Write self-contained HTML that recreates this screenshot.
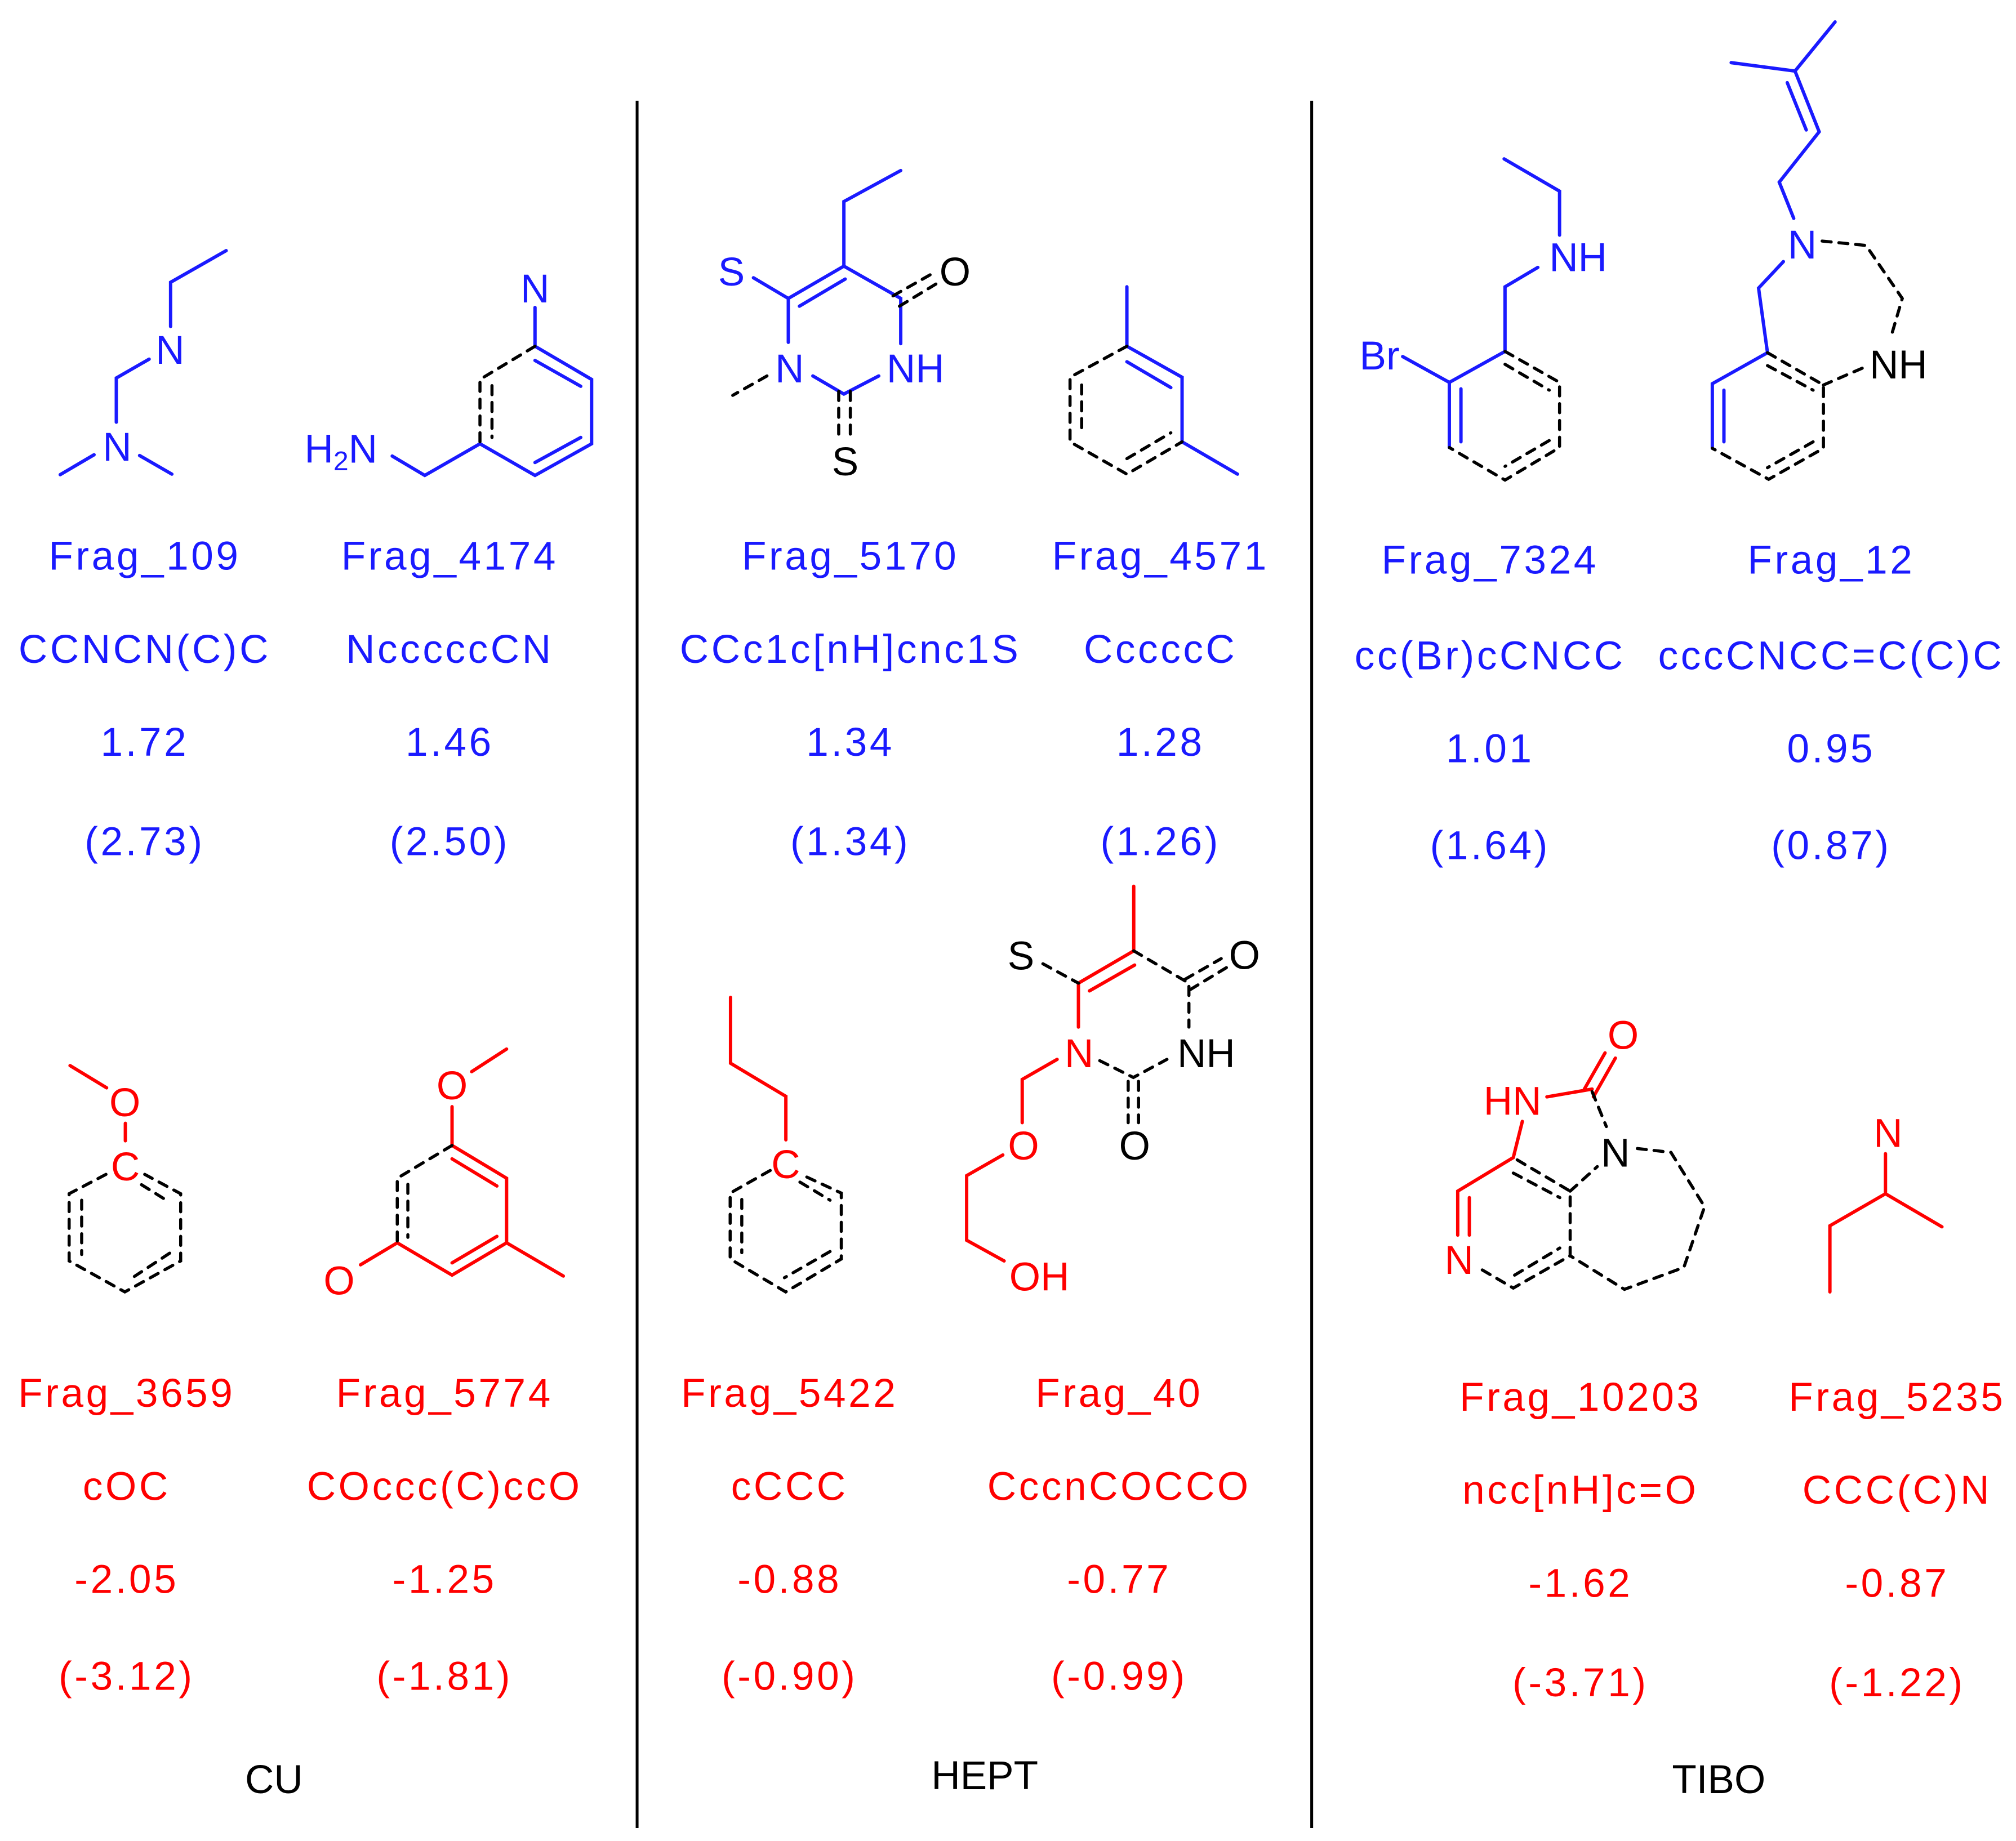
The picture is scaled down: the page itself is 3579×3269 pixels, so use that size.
<!DOCTYPE html>
<html><head><meta charset="utf-8"><style>
html,body{margin:0;padding:0;background:#fff}
svg{display:block}
text{font-family:"Liberation Sans",sans-serif;font-size:31px;text-anchor:middle}
.lab text{letter-spacing:2px}
.b{fill:#1a1aff}.r{fill:#ff0000}.k{fill:#000}
.lb{stroke:#1a1aff;stroke-width:2.6;fill:none;stroke-linecap:round}
.lr{stroke:#ff0000;stroke-width:2.6;fill:none;stroke-linecap:round}
.lk{stroke:#000;stroke-width:2.2;fill:none}
.ld{stroke:#000;stroke-width:2.4;fill:none;stroke-dasharray:7 6;stroke-linecap:round}
.at{font-size:31px}
.st{text-anchor:start}
</style></head><body>
<svg width="3579" height="3269" viewBox="0 0 1560 1425" preserveAspectRatio="none" xmlns="http://www.w3.org/2000/svg">
<rect width="1560" height="1425" fill="#fff"/>
<line x1="493" y1="78" x2="493" y2="1415" class="lk"/>
<line x1="1015" y1="78" x2="1015" y2="1415" class="lk"/>

<!-- Frag_109 -->
<path class="lb" d="M175,194 L132,218.5 L132,252.7 M115.4,278 L90,292.6 L90,326.8 M72.8,352 L46.6,367.4 M108,352.6 L133,367"/>
<text x="131.6" y="281.7" class="b at">N</text>
<text x="90.7" y="356.5" class="b at">N</text>

<!-- Frag_4174 -->
<text x="414" y="234" class="b at">N</text>
<path class="lb" d="M414,238 L414,268 L457.8,293.7 L457.8,343.5 L414,368 L371.4,343.5 L328.7,368 L303.5,353 M414,279 L449.4,299 M449.4,338.6 L414,358"/>
<path class="ld" d="M414,268 L371.4,293.7 L371.4,343.5 M380.7,298.5 L380.7,338.6"/>
<text x="235.6" y="358" class="b at st">H<tspan font-size="21" dy="6">2</tspan><tspan dy="-6">N</tspan></text>

<!-- Frag_5170 -->
<text x="566" y="221" class="b at">S</text>
<path class="lb" d="M583,215 L610,231 L653,206 L697,231 L697,266 M618.6,237 L654,216 M653,206 L653,156 L697,132 M610,231 L610,265 M629,291 L653,305 L680,291"/>
<text x="611" y="296" class="b at">N</text>
<text x="686" y="296" class="b at st">NH</text>
<path class="ld" d="M649,303 L649,339 M658,303 L658,339 M593.5,291 L567,306 M691,229 L721,212 M696,237 L725.6,219"/>
<text x="654" y="368" class="k at">S</text>
<text x="739" y="221" class="k at">O</text>

<!-- Frag_4571 -->
<path class="lb" d="M872,222 L872,268 L914.7,292 L914.7,342 L957.6,367 M872,280 L906,300"/>
<path class="ld" d="M872,268 L828,292 L828,342 L872,367 L914.7,342 M837,298 L837,336 M872,355 L906,335"/>

<!-- Frag_7324 -->
<path class="lb" d="M1163.9,123 L1206.8,148 L1206.8,182 M1190,207 L1164.6,222 L1164.6,272 L1121.5,296 L1121.5,346.4 M1130.5,301 L1130.5,342 M1085.4,276 L1121.5,296"/>
<text x="1198.8" y="210" class="b at st">NH</text>
<text x="1052" y="286" class="b at st">Br</text>
<path class="ld" d="M1164.6,272 L1206.8,296 L1206.8,346.4 L1164.6,371.6 L1121.5,346.4 M1164.6,282 L1198.8,302 M1198.8,341 L1164.6,361"/>

<!-- Frag_12 -->
<path class="lb" d="M1339.6,48.5 L1389,55 L1420,17 M1389,55 L1407.7,102 L1376.8,141 L1388,169 M1383,64 L1397.7,100.6 M1380,202.5 L1360.8,223 L1367.7,273 L1325,297 L1325,347 M1334,302 L1334,342"/>
<text x="1394.6" y="200" class="b at">N</text>
<path class="ld" d="M1410,186.6 L1444,190 L1472,231 L1463,261.6 M1441,285 L1411,298 M1367.7,273 L1411,298 L1411,347 L1368.6,371 L1325,347 M1367.7,283 L1403,302 M1403,342 L1367.7,362"/>
<text x="1446.7" y="293" class="k at st">NH</text>

<!-- blue labels -->
<g class="b lab">
<text x="112" y="441">Frag_109</text><text x="112" y="513">CCNCN(C)C</text><text x="112" y="585">1.72</text><text x="112" y="662">(2.73)</text>
<text x="348" y="441">Frag_4174</text><text x="348" y="513">NcccccCN</text><text x="348" y="585">1.46</text><text x="348" y="662">(2.50)</text>
<text x="658" y="441">Frag_5170</text><text x="658" y="513">CCc1c[nH]cnc1S</text><text x="658" y="585">1.34</text><text x="658" y="662">(1.34)</text>
<text x="898" y="441">Frag_4571</text><text x="898" y="513">CccccC</text><text x="898" y="585">1.28</text><text x="898" y="662">(1.26)</text>
<text x="1153" y="444">Frag_7324</text><text x="1153" y="518">cc(Br)cCNCC</text><text x="1153" y="590">1.01</text><text x="1153" y="665">(1.64)</text>
<text x="1417" y="444">Frag_12</text><text x="1417" y="518">cccCNCC=C(C)C</text><text x="1417" y="590">0.95</text><text x="1417" y="665">(0.87)</text>
</g>

<!-- Frag_3659 -->
<path class="lr" d="M54.2,824.8 L82.5,842 M97,869.5 L97,883"/>
<text x="96.6" y="864" class="r at">O</text>
<text x="97" y="913.7" class="r at">C</text>
<path class="ld" d="M82,909 L53.5,924 L53.5,976 L96.6,1000 L139.8,976 L139.8,924 L112,909 M63.2,929 L63.2,971 M109.5,917 L131.3,930.6 M131.3,970 L104,988"/>

<!-- Frag_5774 -->
<path class="lr" d="M392,812 L365,829.5 M349.8,856.6 L349.8,886.6 L392,912 L392,962 L349.8,987 L307.4,962 L279,979 M349.8,897 L384.5,918 M384.5,957 L349.8,977.5 M392,962 L435.9,987.7"/>
<text x="349.8" y="851" class="r at">O</text>
<path class="ld" d="M349.8,886.6 L307.4,912 L307.4,962 M315.6,916.7 L315.6,957.7"/>
<text x="262.4" y="1002" class="r at">O</text>

<!-- Frag_5422 -->
<path class="lr" d="M565.3,772 L565.3,823 L608.1,848.6 L608.1,882.3"/>
<text x="608" y="912" class="r at">C</text>
<path class="ld" d="M596,906 L565,923.5 L565,974.5 L608,1000 L651,974.5 L651,923.5 L622,910 M574,928.4 L574,969.6 M619,915 L642.3,929 M642.3,968.7 L607,989"/>

<!-- Frag_40 -->
<path class="lr" d="M877.3,686 L877.3,736 L834.5,761 L834.5,795 M843,767 L878,747 M818,820 L791,835.5 L791,869 M776,894 L748,910 L748,960 L777,976"/>
<text x="790" y="750.5" class="k at">S</text>
<path class="ld" d="M807,746 L834.5,761 M877.3,736 L920,761 L920,795 M917,758 L945,742 M921,766 L949,749 M851,821 L877,834 L903,820 M873,837 L873,869 M881,837 L881,869"/>
<text x="963" y="750" class="k at">O</text>
<text x="835" y="826" class="r at">N</text>
<text x="911" y="826" class="k at st">NH</text>
<text x="878" y="897.6" class="k at">O</text>
<text x="792" y="897.6" class="r at">O</text>
<text x="781" y="999" class="r at st">OH</text>

<!-- Frag_10203 -->
<text x="1256" y="812" class="r at">O</text>
<path class="lr" d="M1226,843 L1242,815 M1233,849 L1250,819 M1197,849 L1232,843 M1178,868 L1171,896 L1128,922 L1128,956 M1137,927 L1137,956"/>
<text x="1148" y="863" class="r at st">HN</text>
<text x="1250" y="903" class="k at">N</text>
<text x="1129" y="986" class="r at">N</text>
<path class="ld" d="M1232,845 L1243,872 M1147,983 L1171,997 L1215,972 L1215,922 L1171,896 M1172,987 L1207,966 M1171,908 L1207,927 M1215,922 L1236,903 M1267,889 L1293,892 L1319,934 L1303,981 L1257,998 L1215,972"/>

<!-- Frag_5235 -->
<text x="1461" y="887.8" class="r at">N</text>
<path class="lr" d="M1459,893 L1459,924 L1502.7,949.6 M1459,924 L1416,948.8 L1416,1000"/>

<!-- red labels -->
<g class="r lab">
<text x="98" y="1089">Frag_3659</text><text x="98" y="1161">cOC</text><text x="98" y="1233">-2.05</text><text x="98" y="1308">(-3.12)</text>
<text x="344" y="1089">Frag_5774</text><text x="344" y="1161">COccc(C)ccO</text><text x="344" y="1233">-1.25</text><text x="344" y="1308">(-1.81)</text>
<text x="611" y="1089">Frag_5422</text><text x="611" y="1161">cCCC</text><text x="611" y="1233">-0.88</text><text x="611" y="1308">(-0.90)</text>
<text x="866" y="1089">Frag_40</text><text x="866" y="1161">CccnCOCCO</text><text x="866" y="1233">-0.77</text><text x="866" y="1308">(-0.99)</text>
<text x="1223" y="1092">Frag_10203</text><text x="1223" y="1164">ncc[nH]c=O</text><text x="1223" y="1236">-1.62</text><text x="1223" y="1313">(-3.71)</text>
<text x="1468" y="1092">Frag_5235</text><text x="1468" y="1164">CCC(C)N</text><text x="1468" y="1236">-0.87</text><text x="1468" y="1313">(-1.22)</text>
</g>

<text x="212" y="1388" class="k">CU</text>
<text x="762" y="1385" class="k">HEPT</text>
<text x="1330" y="1388" class="k">TIBO</text>
</svg>
</body></html>
